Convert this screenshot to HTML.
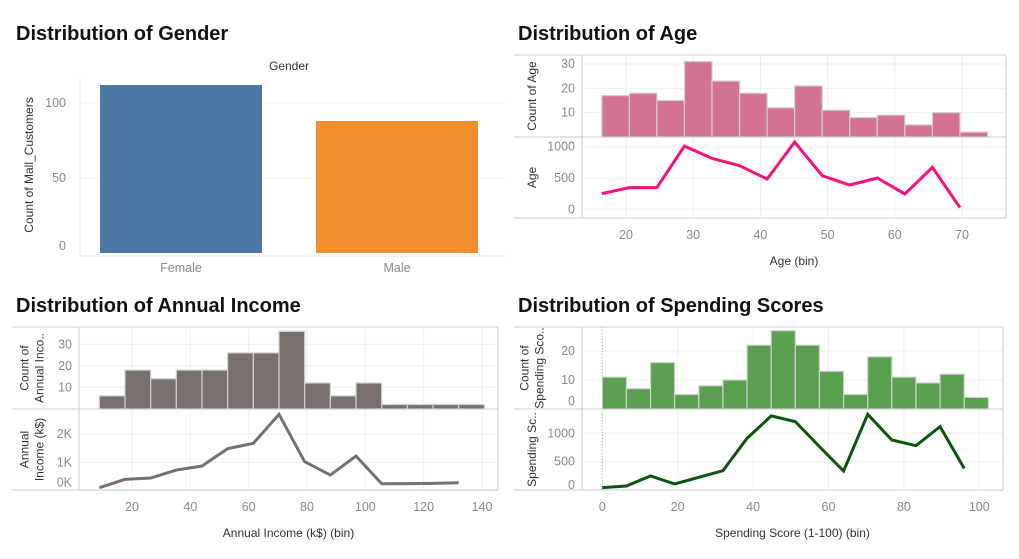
<!DOCTYPE html>
<html><head><meta charset="utf-8">
<style>
body{margin:0;background:#fff;width:1019px;height:559px;overflow:hidden;font-family:"Liberation Sans",sans-serif}
svg{display:block}
.title{font-size:20px;font-weight:bold;fill:#111}
.tick{font-size:12.5px;fill:#8a8a8a}
.atitle{font-size:12px;fill:#333}
</style></head>
<body>
<svg id="c" width="1019" height="559">
<text class="title" x="16" y="40">Distribution of Gender</text>
<text class="title" x="518" y="40">Distribution of Age</text>
<text class="title" x="16" y="312">Distribution of Annual Income</text>
<text class="title" x="518" y="312">Distribution of Spending Scores</text>
</svg>
<script>
const genderCats=["Female","Male"];
const genderCounts=[112,88];
const genderTicks=[0,50,100];

const ageBins=[16.4,20.5,24.6,28.7,32.8,36.9,41,45.1,49.2,53.3,57.4,61.5,65.6,69.7];
const ageCounts=[17,18,15,31,23,18,12,21,11,8,9,5,10,2];
const ageSums=[250,346,346,1010,814,697,484,1074,537,388,500,245,670,27];
const ageXTicks=[20,30,40,50,60,70];
const ageCTicks=[10,20,30];
const ageSTicks=[0,500,1000];

const incBins=[8.8,17.6,26.4,35.2,44,52.8,61.6,70.4,79.2,88,96.8,105.6,114.4,123.2,132];
const incCounts=[6,18,14,18,18,26,26,36,12,6,12,2,2,2,2];
const incSums=[106,400,447,729,870,1482,1670,2694,1024,553,1224,247,250,260,282];
const incXTicks=[20,40,60,80,100,120,140];
const incCTicks=[10,20,30];
const incSTicks=[0,1000,2000];
const incSLabels=["0K","1K","2K"];

const spBins=[0,6.4,12.8,19.2,25.6,32,38.4,44.8,51.2,57.6,64,70.4,76.8,83.2,89.6,96];
const spCounts=[11,7,16,5,8,10,22,27,22,13,5,18,11,9,12,4];
const spSums=[41,71,247,106,224,341,912,1306,1206,765,335,1335,882,782,1118,382];
const spXTicks=[0,20,40,60,80,100];
const spCTicks=[0,10,20];
const spSTicks=[0,500,1000];

const NS="http://www.w3.org/2000/svg";
const svg=document.getElementById('c');
function mk(tag,attrs,parent){const e=document.createElementNS(NS,tag);for(const k in attrs)e.setAttribute(k,attrs[k]);(parent||svg).appendChild(e);return e;}
function txt(s,attrs,parent){const e=mk('text',attrs,parent);e.textContent=s;return e;}
function lin(d0,d1,r0,r1){return v=>r0+(v-d0)*(r1-r0)/(d1-d0);}

(function(){
  const g=mk('g',{});
  
  
  const y=lin(0,100,253,103);
  txt('Gender',{x:289,y:70,'text-anchor':'middle',class:'atitle'},g);
  mk('line',{x1:80,y1:256,x2:505,y2:256,stroke:'#e4e4e4'},g);
  mk('line',{x1:80,y1:78,x2:80,y2:256,stroke:'#eee'},g);
  genderTicks.forEach(t=>{
    const e=txt(String(t),{x:66,y:y(t)+(t===0?-3:4),'text-anchor':'end',class:'tick'},g);
    
    
    if(t>0){mk('line',{x1:80,x2:505,y1:y(t),y2:y(t),stroke:'#f3f3f3'},g);}
  });
  const cols=['#4e79a7','#f28e2b'];
  const cx=[181,397];
  genderCats.forEach((c,i)=>{
    const r=mk('rect',{x:cx[i]-81,y:y(genderCounts[i]),width:162,height:y(0)-y(genderCounts[i]),fill:cols[i]},g);
    
    
    const l=txt(c,{x:cx[i],y:272,'text-anchor':'middle',class:'tick'},g);
    
    
  });
  const at=txt('Count of Mall_Customers',{x:0,y:0,'text-anchor':'middle',class:'atitle',transform:'translate(33,165) rotate(-90)'},g);
  
  
})();

function histPanel(o){
  const g=mk('g',{});
  
  
  const x=lin(o.xd[0],o.xd[1],o.xr[0],o.xr[1]);
  const yc=lin(o.cd[0],o.cd[1],o.cr[0],o.cr[1]);
  const ys=lin(o.sd[0],o.sd[1],o.sr[0],o.sr[1]);
  o.xTicks.forEach(t=>{mk('line',{x1:x(t),x2:x(t),y1:o.top,y2:o.bottom,stroke:'#efefef'},g);});
  o.cTicks.forEach(t=>{mk('line',{x1:o.ax,x2:o.right,y1:yc(t),y2:yc(t),stroke:'#efefef'},g);});
  o.sTicks.forEach(t=>{mk('line',{x1:o.ax,x2:o.right,y1:ys(t),y2:ys(t),stroke:'#efefef'},g);});
  if(o.zeroLine){mk('line',{x1:x(0),x2:x(0),y1:o.top,y2:o.bottom,stroke:'#aaa','stroke-dasharray':'1,2'},g);}
  o.bins.forEach((b,i)=>{
    if(i>=o.counts.length)return;
    const r=mk('rect',{x:x(b),y:yc(o.counts[i]),width:x(b+o.w)-x(b),height:o.split-yc(o.counts[i]),fill:o.barCol,stroke:'#d0d0d0','stroke-width':1.2},g);
    
    
  });
  const pts=o.sums.map((s,i)=>x(o.bins[i])+','+ys(s)).join(' ');
  const pl=mk('polyline',{points:pts,fill:'none',stroke:o.lineCol,'stroke-width':3,'stroke-linejoin':'miter'},g);
  
  
  mk('line',{x1:o.left,x2:o.right,y1:o.top,y2:o.top,stroke:'#ccc'},g);
  mk('line',{x1:o.left,x2:o.right,y1:o.split,y2:o.split,stroke:'#ccc'},g);
  mk('line',{x1:o.left,x2:o.right,y1:o.bottom,y2:o.bottom,stroke:'#ccc'},g);
  mk('line',{x1:o.right,x2:o.right,y1:o.top,y2:o.bottom,stroke:'#ccc'},g);
  mk('line',{x1:o.ax,x2:o.ax,y1:o.top,y2:o.bottom,stroke:'#ccc'},g);
  o.xTicks.forEach(t=>{
    const e=txt(String(t),{x:x(t),y:o.bottom+21,'text-anchor':'middle',class:'tick'},g);
    
    
  });
  o.cTicks.forEach(t=>{
    const e=txt(String(t),{x:o.ax-7,y:yc(t)+(t===0&&o.zeroUp?-4:4),'text-anchor':'end',class:'tick'},g);
    
    
  });
  o.sTicks.forEach((t,i)=>{
    const e=txt(o.sLabels?o.sLabels[i]:String(t),{x:o.ax-7,y:ys(t)+(t===0?(o.sZeroUp||0):4),'text-anchor':'end',class:'tick'},g);
    
    
  });
  const xt=txt(o.xTitle,{x:(o.ax+o.right)/2,y:o.bottom+47,'text-anchor':'middle',class:'atitle'},g);
  
  
  const addT=(lines,cy,name)=>{
    lines.forEach((s,i)=>{
      const xx=o.titleX+(i-(lines.length-1)/2)*15;
      const e=txt(s,{x:0,y:0,'text-anchor':'middle',class:'atitle',transform:'translate('+xx+','+cy+') rotate(-90)'},g);
      
      
    });
  };
  addT(o.cTitle,(o.top+o.split)/2,o.name+'-count-axis-title');
  addT(o.sTitle,(o.split+o.bottom)/2,o.name+'-sum-axis-title');
}

histPanel({name:'age',bins:ageBins,counts:ageCounts,sums:ageSums,w:4.1,
  xd:[20,70],xr:[626,962],cd:[0,30],cr:[137,64],sd:[0,1000],sr:[209.3,146.7],sZeroUp:4,
  left:514,right:1006,top:55,split:137,bottom:218,ax:582,titleX:536,
  xTicks:ageXTicks,cTicks:ageCTicks,sTicks:ageSTicks,barCol:'#d37295',lineCol:'#f5127c',
  xTitle:'Age (bin)',cTitle:['Count of Age'],sTitle:['Age']});

histPanel({name:'income',bins:incBins,counts:incCounts,sums:incSums,w:8.8,
  xd:[20,140],xr:[132,482],cd:[0,30],cr:[408.8,344.3],sd:[0,2000],sr:[490.7,434],sZeroUp:-4,
  left:12,right:498,top:327,split:409,bottom:490,ax:79,titleX:36,
  xTicks:incXTicks,cTicks:incCTicks,sTicks:incSTicks,sLabels:incSLabels,barCol:'#79706e',lineCol:'#79706e',
  xTitle:'Annual Income (k$) (bin)',cTitle:['Count of','Annual Inco..'],sTitle:['Annual','Income (k$)']});

histPanel({name:'spending',bins:spBins,counts:spCounts,sums:spSums,w:6.4,zeroLine:true,zeroUp:true,
  xd:[0,100],xr:[602.3,979.3],cd:[0,20],cr:[409,351],sd:[0,1000],sr:[490,433.3],sZeroUp:-1,
  left:514,right:1003,top:327,split:409,bottom:490,ax:582,titleX:536,
  xTicks:spXTicks,cTicks:spCTicks,sTicks:spSTicks,barCol:'#59a14f',lineCol:'#0b540b',
  xTitle:'Spending Score (1-100) (bin)',cTitle:['Count of','Spending Sco..'],sTitle:['Spending Sc..']});
</script>
</body></html>
